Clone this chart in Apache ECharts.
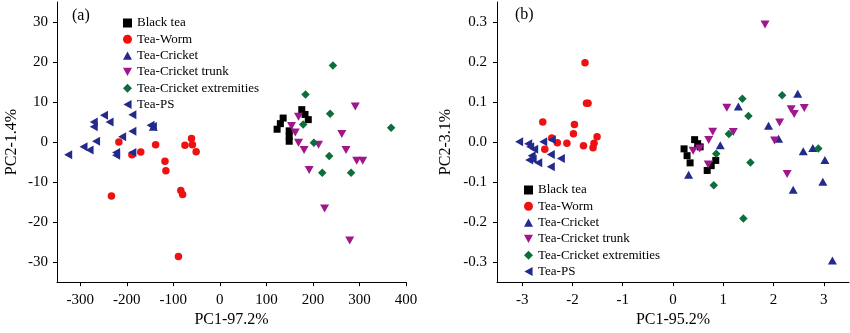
<!DOCTYPE html>
<html><head><meta charset="utf-8">
<script src="https://cdn.jsdelivr.net/npm/echarts@6/dist/echarts.min.js"></script>
<style>html,body{margin:0;padding:0;background:#fff}#c{width:850px;height:333px}</style>
</head><body><div id="c"></div>
<script>
// ---------- data ----------
const seriesNames = ["Black tea","Tea-Worm","Tea-Cricket","Tea-Cricket trunk","Tea-Cricket extremities","Tea-PS"];

// Panel (a)
const blackA = [[123,3.2],[130,4.6],[136,6.0],[149,2.8],[149,1.5],[149,0.2],[176,8.1],[183,6.9],[190,5.6]];
const wormA = [[-217,0],[-189,-3.2],[-170,-2.5],[-138,-0.7],[-118,-4.8],[-116,-7.2],[-75,-0.8],[-61,0.9],[-59,-0.7],[-51,-2.4],[-84,-12.1],[-80,-13.1],[-233,-13.5],[-89,-28.6]];
const cricketA = [[-143,3.8]];
const trunkA = [[169,6.3],[154,4.0],[162,2.4],[169,-0.2],[181,-2.0],[192,-7.0],[212,-0.7],[225,-16.6],[262,2.0],[271,-2.0],[291,8.9],[294,-4.7],[307,-4.7],[279,-24.6]];
const extA = [[243,19.1],[184,11.9],[237,7.1],[179,4.4],[368,3.6],[202,-0.2],[235,-3.5],[220,-7.7],[282,-7.7]];
const psA = [[-326,-3.2],[-293,-1.2],[-280,-2.0],[-271,5.0],[-271,3.8],[-266,0.2],[-249,6.7],[-237,5.0],[-223,-2.6],[-223,-3.3],[-210,1.3],[-188,6.8],[-188,2.7],[-188,-2.6],[-149,4.2],[-144,3.9]];

// Panel (b)
const blackB = [[0.22,-0.017],[0.28,-0.034],[0.34,-0.052],[0.43,0.006],[0.49,-0.004],[0.54,-0.012],[0.68,-0.071],[0.76,-0.059],[0.85,-0.046]];
const wormB = [[-1.75,0.198],[-1.72,0.097],[-1.69,0.097],[-2.59,0.050],[-1.96,0.044],[-1.98,0.021],[-2.41,0.010],[-2.30,-0.002],[-2.11,-0.003],[-1.78,-0.009],[-1.57,-0.003],[-1.59,-0.014],[-1.51,0.013],[-2.55,-0.018]];
const cricketB = [[0.31,-0.082],[0.94,-0.008],[1.30,0.089],[1.90,0.041],[2.10,0.008],[2.48,0.121],[2.59,-0.023],[2.78,-0.015],[2.39,-0.119],[2.98,-0.099],[3.02,-0.045],[3.17,-0.296]];
const trunkB = [[1.83,0.294],[1.07,0.086],[2.35,0.082],[2.41,0.070],[2.61,0.085],[2.12,0.049],[0.79,0.026],[0.71,0.005],[1.20,0.025],[0.40,-0.022],[0.53,-0.016],[0.70,-0.056],[2.02,0.004],[2.27,-0.080]];
const extB = [[1.38,0.108],[2.17,0.117],[1.50,0.065],[1.11,0.020],[0.86,-0.029],[1.54,-0.051],[0.81,-0.108],[1.40,-0.191],[2.89,-0.016]];
const psB = [[-3.06,0.001],[-2.88,-0.004],[-2.84,-0.012],[-2.76,-0.018],[-2.81,-0.034],[-2.79,-0.043],[-2.68,-0.052],[-2.58,0.001],[-2.41,0.006],[-2.43,-0.031],[-2.23,-0.041],[-2.43,-0.062],[-2.86,-0.045]];

// ticks
const xTicksA = [-300,-200,-100,0,100,200,300,400];
const yTicksA = [-30,-20,-10,0,10,20,30];
const xTicksB = [-3,-2,-1,0,1,2,3];
const yTicksB = [-0.3,-0.2,-0.1,0,0.1,0.2,0.3];
const axisTitles = {xA:"PC1-97.2%", yA:"PC2-1.4%", xB:"PC1-95.2%", yB:"PC2-3.1%"};

// ---------- styles ----------
const FONT = "Liberation Serif";
const styles = [
  {symbol:'rect', size:7, color:'#000000'},
  {symbol:'circle', size:7.5, color:'#ee1111'},
  {symbol:'path://M5,0 L10,9 L0,9 Z', size:[9,8], color:'#232a8c'},
  {symbol:'path://M0,0 L10,0 L5,9 Z', size:[9,8], color:'#a0168c'},
  {symbol:'diamond', size:8.5, color:'#0b6e3c'},
  {symbol:'path://M0,5 L9,0 L9,10 Z', size:[8,9], color:'#232a8c'}
];
const dataA = [blackA, wormA, cricketA, trunkA, extA, psA];
const dataB = [blackB, wormB, cricketB, trunkB, extB, psB];

function axisCommon(){
  return {
    axisLine:{show:true, onZero:false, lineStyle:{color:'#000', width:1}},
    axisTick:{show:true, inside:false, length:4, lineStyle:{color:'#000'}},
    splitLine:{show:false},
    nameTextStyle:{fontFamily:FONT, fontSize:16, color:'#000'},
    axisLabel:{fontFamily:FONT, fontSize:15, color:'#000'}
  };
}
function mkAxis(type, idx, min, max, ticks, name, gap, margin, fmt){
  const a = axisCommon();
  a.type='value'; a.gridIndex=idx; a.min=min; a.max=max;
  a.name=name; a.nameLocation='middle'; a.nameGap=gap;
  a.axisTick.customValues = ticks;
  a.axisLabel.customValues = ticks;
  a.axisLabel.margin = margin;
  a.axisLabel.showMinLabel = true; a.axisLabel.showMaxLabel = true;
  if (fmt) a.axisLabel.formatter = fmt;
  return a;
}

const series = [];
[dataA, dataB].forEach((set, g) => {
  set.forEach((d, i) => {
    series.push({
      type:'scatter', name:seriesNames[i], xAxisIndex:g, yAxisIndex:g,
      data:d, symbol:styles[i].symbol, symbolSize:styles[i].size,
      itemStyle:{color:styles[i].color, opacity:1}, emphasis:{disabled:true}, silent:true
    });
  });
});

const legendBase = {
  orient:'vertical', itemWidth:9, itemHeight:9, itemGap:0.3,
  textStyle:{fontFamily:FONT, fontSize:13, color:'#000', lineHeight:16},
  data: seriesNames.map((n,i)=>({name:n, icon:styles[i].symbol, itemStyle:{color:styles[i].color}})),
  selectedMode:false
};

const option = {
  animation:false,
  backgroundColor:'#fff',
  grid:[
    {left:57, right:444, top:2, bottom:48},
    {left:497, right:1, top:2, bottom:48}
  ],
  xAxis:[
    mkAxis('x',0,-350,400,xTicksA,axisTitles.xA,26,10),
    mkAxis('x',1,-3.5,3.5,xTicksB,axisTitles.xB,26,10)
  ],
  yAxis:[
    mkAxis('y',0,-35,35,yTicksA,axisTitles.yA,37,9),
    mkAxis('y',1,-0.35,0.35,yTicksB,axisTitles.yB,43,10,v=>v.toFixed(1))
  ],
  legend:[
    Object.assign({}, legendBase, {left:118, top:10}),
    Object.assign({}, legendBase, {left:519, top:177})
  ],
  graphic:[
    {type:'text', left:72, top:8, style:{text:'(a)', font:'16px "Liberation Serif"', fill:'#000'}},
    {type:'text', left:515, top:7, style:{text:'(b)', font:'16px "Liberation Serif"', fill:'#000'}}
  ],
  series: series
};
const chart = echarts.init(document.getElementById('c'), null, {renderer:'canvas'});
chart.setOption(option);
</script>
</body></html>
